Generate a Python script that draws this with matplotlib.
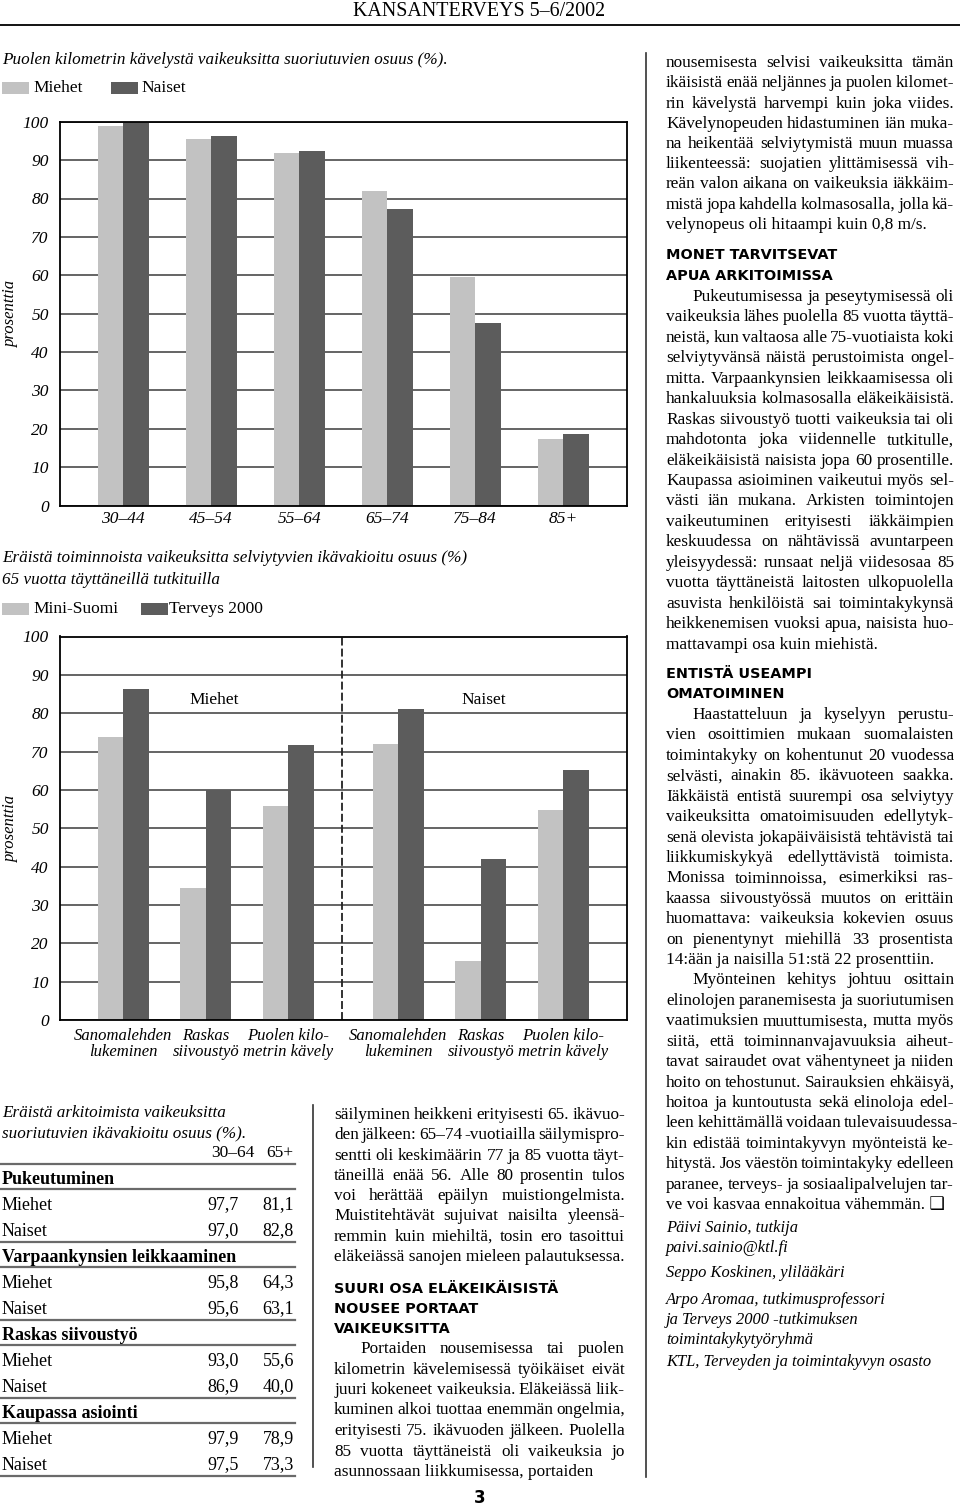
import matplotlib
matplotlib.use("Agg")
import matplotlib.pyplot as plt
import numpy as np
from matplotlib.patches import Rectangle
from matplotlib.lines import Line2D

# --- data -------------------------------------------------------------
age_groups = ["30–44", "45–54", "55–64", "65–74", "75–84", "85+"]
walk_men = [99.0, 95.4, 91.9, 82.0, 59.5, 17.4]
walk_women = [99.6, 96.2, 92.4, 77.3, 47.7, 18.6]

activities = ["Sanomalehden\nlukeminen", "Raskas\nsiivoustyö", "Puolen kilo-\nmetrin kävely",
              "Sanomalehden\nlukeminen", "Raskas\nsiivoustyö", "Puolen kilo-\nmetrin kävely"]
mini_suomi = [73.7, 34.3, 55.9, 72.0, 15.5, 54.8]
terveys_2000 = [86.4, 59.9, 71.8, 81.1, 42.1, 65.2]

table_sections = ["Pukeutuminen", "Varpaankynsien leikkaaminen", "Raskas siivoustyö", "Kaupassa asiointi"]
men_30_64 = [97.7, 95.8, 93.0, 97.9]
men_65 = [81.1, 64.3, 55.6, 78.9]
women_30_64 = [97.0, 95.6, 86.9, 97.5]
women_65 = [82.8, 63.1, 40.0, 73.3]

mid_para1 = [
    "säilyminen heikkeni erityisesti 65. ikävuo-",
    "den jälkeen: 65–74 -vuotiailla säilymispro-",
    "sentti oli keskimäärin 77 ja 85 vuotta täyt-",
    "täneillä enää 56. Alle 80 prosentin tulos",
    "voi herättää epäilyn muistiongelmista.",
    "Muistitehtävät sujuivat naisilta yleensä-",
    "remmin kuin miehiltä, tosin ero tasoittui",
    "eläkeiässä sanojen mieleen palautuksessa.",
]
mid_head = ["SUURI OSA ELÄKEIKÄISISTÄ", "NOUSEE PORTAAT", "VAIKEUKSITTA"]
mid_para2 = [
    "\tPortaiden nousemisessa tai puolen",
    "kilometrin kävelemisessä työikäiset eivät",
    "juuri kokeneet vaikeuksia. Eläkeiässä liik-",
    "kuminen alkoi tuottaa enemmän ongelmia,",
    "erityisesti 75. ikävuoden jälkeen. Puolella",
    "85 vuotta täyttäneistä oli vaikeuksia jo",
    "asunnossaan liikkumisessa, portaiden",
]

right_para1 = [
    "nousemisesta selvisi vaikeuksitta tämän",
    "ikäisistä enää neljännes ja puolen kilomet-",
    "rin kävelystä harvempi kuin joka viides.",
    "Kävelynopeuden hidastuminen iän muka-",
    "na heikentää selviytymistä muun muassa",
    "liikenteessä: suojatien ylittämisessä vih-",
    "reän valon aikana on vaikeuksia iäkkäim-",
    "mistä jopa kahdella kolmasosalla, jolla kä-",
    "velynopeus oli hitaampi kuin 0,8 m/s.",
]
right_head1 = ["MONET TARVITSEVAT", "APUA ARKITOIMISSA"]
right_para2 = [
    "\tPukeutumisessa ja peseytymisessä oli",
    "vaikeuksia lähes puolella 85 vuotta täyttä-",
    "neistä, kun valtaosa alle 75-vuotiaista koki",
    "selviytyvänsä näistä perustoimista ongel-",
    "mitta. Varpaankynsien leikkaamisessa oli",
    "hankaluuksia kolmasosalla eläkeikäisistä.",
    "Raskas siivoustyö tuotti vaikeuksia tai oli",
    "mahdotonta joka viidennelle tutkitulle,",
    "eläkeikäisistä naisista jopa 60 prosentille.",
    "Kaupassa asioiminen vaikeutui myös sel-",
    "västi iän mukana. Arkisten toimintojen",
    "vaikeutuminen erityisesti iäkkäimpien",
    "keskuudessa on nähtävissä avuntarpeen",
    "yleisyydessä: runsaat neljä viidesosaa 85",
    "vuotta täyttäneistä laitosten ulkopuolella",
    "asuvista henkilöistä sai toimintakykynsä",
    "heikkenemisen vuoksi apua, naisista huo-",
    "mattavampi osa kuin miehistä.",
]
right_head2 = ["ENTISTÄ USEAMPI", "OMATOIMINEN"]
right_para3 = [
    "\tHaastatteluun ja kyselyyn perustu-",
    "vien osoittimien mukaan suomalaisten",
    "toimintakyky on kohentunut 20 vuodessa",
    "selvästi, ainakin 85. ikävuoteen saakka.",
    "Iäkkäistä entistä suurempi osa selviytyy",
    "vaikeuksitta omatoimisuuden edellytyk-",
    "senä olevista jokapäiväisistä tehtävistä tai",
    "liikkumiskykyä edellyttävistä toimista.",
    "Monissa toiminnoissa, esimerkiksi ras-",
    "kaassa siivoustyössä muutos on erittäin",
    "huomattava: vaikeuksia kokevien osuus",
    "on pienentynyt miehillä 33 prosentista",
    "14:ään ja naisilla 51:stä 22 prosenttiin.",
    "\tMyönteinen kehitys johtuu osittain",
    "elinolojen paranemisesta ja suoriutumisen",
    "vaatimuksien muuttumisesta, mutta myös",
    "siitä, että toiminnanvajavuuksia aiheut-",
    "tavat sairaudet ovat vähentyneet ja niiden",
    "hoito on tehostunut. Sairauksien ehkäisyä,",
    "hoitoa ja kuntoutusta sekä elinoloja edel-",
    "leen kehittämällä voidaan tulevaisuudessa-",
    "kin edistää toimintakyvyn myönteistä ke-",
    "hitystä. Jos väestön toimintakyky edelleen",
    "paranee, terveys- ja sosiaalipalvelujen tar-",
    "ve voi kasvaa ennakoitua vähemmän. ❑",
]
signatures = [
    "Päivi Sainio, tutkija",
    "paivi.sainio@ktl.fi",
    "Seppo Koskinen, ylilääkäri",
    "Arpo Aromaa, tutkimusprofessori",
    "ja Terveys 2000 -tutkimuksen",
    "toimintakykytyöryhmä",
    "KTL, Terveyden ja toimintakyvyn osasto",
]

# --- page setup ---------------------------------------------------------
W, H = 960, 1507
LIGHT = "#c2c2c2"
DARK = "#5c5c5c"
SERIF = ["Liberation Serif", "DejaVu Sans"]

fig = plt.figure(figsize=(W / 100, H / 100), dpi=100)
renderer = fig.canvas.get_renderer()


def fx(x):
    return x / W


def fy(y):
    return 1 - y / H


def put(x, y, s, **kw):
    kw.setdefault("family", SERIF)
    kw.setdefault("va", "center")
    return fig.text(fx(x), fy(y), s, **kw)


def hline(x0, x1, y, **kw):
    fig.add_artist(Line2D([fx(x0), fx(x1)], [fy(y), fy(y)], transform=fig.transFigure, **kw))


def vline(x, y0, y1, **kw):
    fig.add_artist(Line2D([fx(x), fx(x)], [fy(y0), fy(y1)], transform=fig.transFigure, **kw))


def box(x, y, w, h, color):
    fig.add_artist(Rectangle((fx(x), fy(y + h)), w / W, h / H, transform=fig.transFigure,
                             color=color, lw=0))


def width_of(s, **kw):
    t = put(0, 0, s, **kw)
    w = t.get_window_extent(renderer).width
    t.remove()
    return w


def paragraph(x0, y0, pitch, lines, right, indent=26, **kw):
    # justified lines, last line of a paragraph left as is
    space = width_of("a a", **kw) - 2 * width_of("a", **kw)
    for i, line in enumerate(lines):
        y = y0 + i * pitch
        start = x0 + (indent if line.startswith("\t") else 0)
        s = line.lstrip("\t")
        last = i == len(lines) - 1 or lines[i + 1].startswith("\t")
        words = s.split(" ")
        if last or len(words) < 2:
            put(start, y, s, **kw)
            continue
        widths = [width_of(w, **kw) for w in words]
        gap = max(space * 0.6, (right - start - sum(widths)) / (len(words) - 1))
        cx = start
        for w, wd in zip(words, widths):
            put(cx, y, w, **kw)
            cx += wd + gap


def headings(x, y0, pitch, lines):
    for i, s in enumerate(lines):
        put(x, y0 + i * pitch, s, family="DejaVu Sans", fontweight="heavy", fontsize=10.4)


def style_axes(ax):
    ax.set_ylim(0, 100)
    ax.set_yticks(range(0, 101, 10))
    ax.yaxis.grid(True, color="#4a4a4a", lw=1.2)
    ax.set_axisbelow(True)
    for sp in ax.spines.values():
        sp.set_color("black")
        sp.set_linewidth(1.3)
    ax.tick_params(length=0)
    ax.tick_params(axis="y", pad=8)
    for lab in ax.get_yticklabels():
        lab.set_family(SERIF)
        lab.set_style("italic")
        lab.set_fontsize(12.5)
    ax.set_ylabel("prosenttia", family=SERIF, style="italic", fontsize=12)
    ax.yaxis.set_label_coords(-0.073, 0.5)


# --- header -------------------------------------------------------------
put(605, 12, "KANSANTERVEYS 5–6/2002", ha="right", fontsize=14.4)
hline(0, 960, 25, color="black", lw=1.3)

# --- chart 1 ------------------------------------------------------------
put(2, 60, "Puolen kilometrin kävelystä vaikeuksitta suoriutuvien osuus (%).",
    style="italic", fontsize=12.3)
box(2, 82, 27, 12, LIGHT)
put(33, 88, "Miehet", fontsize=12.5)
box(111, 82, 27, 12, DARK)
put(141, 88, "Naiset", fontsize=12.5)

ax1 = fig.add_axes([fx(60), fy(505.7), (626.5 - 60) / W, (505.7 - 121.7) / H])
x1 = np.arange(len(age_groups))
ax1.bar(x1 - 0.145, walk_men, 0.29, color=LIGHT, lw=0)
ax1.bar(x1 + 0.145, walk_women, 0.29, color=DARK, lw=0)
ax1.set_xlim(-0.72, 5.72)
ax1.set_xticks(x1)
ax1.set_xticklabels(age_groups, family=SERIF, style="italic", fontsize=12.5)
style_axes(ax1)
ax1.tick_params(axis="x", pad=4)

# --- chart 2 ------------------------------------------------------------
put(2, 558, "Eräistä toiminnoista vaikeuksitta selviytyvien ikävakioitu osuus (%)",
    style="italic", fontsize=12.3)
put(2, 580, "65 vuotta täyttäneillä tutkituilla", style="italic", fontsize=12.3)
box(2, 603, 27, 12, LIGHT)
put(33, 609, "Mini-Suomi", fontsize=12.5)
box(141, 603, 27, 12, DARK)
put(169, 609, "Terveys 2000", fontsize=12.5)

ax2 = fig.add_axes([fx(60), fy(1020), (626.5 - 60) / W, (1020 - 636.5) / H])
idx = np.arange(len(activities))
x2 = idx + 0.337 * (idx >= 3)
ax2.bar(x2 - 0.155, mini_suomi, 0.31, color=LIGHT, lw=0)
ax2.bar(x2 + 0.155, terveys_2000, 0.31, color=DARK, lw=0)
ax2.set_xlim(-0.768, 6.105)
ax2.axvline(2.649, color="#222222", lw=1.3, ls=(0, (4.4, 1.7)))
ax2.set_xticks(x2)
ax2.set_xticklabels(activities, family=SERIF, style="italic", fontsize=12, linespacing=0.95)
style_axes(ax2)
ax2.tick_params(axis="x", pad=6)
ax2.text(1.1, 83.4, "Miehet", family=SERIF, fontsize=12.5, ha="center", va="center")
ax2.text(4.37, 83.4, "Naiset", family=SERIF, fontsize=12.5, ha="center", va="center")

# --- table --------------------------------------------------------------
put(2, 1113, "Eräistä arkitoimista vaikeuksitta", style="italic", fontsize=12.3)
put(2, 1133, "suoriutuvien ikävakioitu osuus (%).", style="italic", fontsize=12.3)
put(211, 1153, "30–64", fontsize=12.5)
put(266, 1153, "65+", fontsize=12.5)
rule = dict(color="#6a6a6a", lw=1.6)
hline(0, 295, 1164, **rule)
fmt = lambda v: f"{v:.1f}".replace(".", ",")
for k, name in enumerate(table_sections):
    y = 1179 + k * 78
    put(2, y, name, fontsize=13, fontweight="bold")
    hline(0, 295, y + 10, **rule)
    for j, (lab, a, b) in enumerate([("Miehet", men_30_64[k], men_65[k]),
                                     ("Naiset", women_30_64[k], women_65[k])]):
        yy = y + 26 * (j + 1)
        put(2, yy, lab, fontsize=13)
        put(239, yy, fmt(a), fontsize=13, ha="right")
        put(294, yy, fmt(b), fontsize=13, ha="right")
    hline(0, 295, y + 63, **rule)

# column separators
vline(313, 1105, 1467, color="#333333", lw=1.2)
vline(646, 53, 1477, color="#333333", lw=1.2)

# --- body text ----------------------------------------------------------
body = dict(fontsize=12.4)
paragraph(334, 1115, 20.3, mid_para1, 625, **body)
headings(334, 1289, 20.2, mid_head)
paragraph(334, 1349, 20.5, mid_para2, 625, **body)

paragraph(666, 63, 20.25, right_para1, 954, **body)
headings(666, 255, 20.5, right_head1)
paragraph(666, 297, 20.45, right_para2, 954, **body)
headings(666, 674, 20.0, right_head2)
paragraph(666, 715, 20.42, right_para3, 954, **body)
for y, s in zip([1228, 1248, 1273, 1300, 1320, 1340, 1362], signatures):
    put(666, y, s, style="italic", fontsize=11.9)

put(480, 1498, "3", family="DejaVu Sans", fontweight="heavy", fontsize=12, ha="center")

fig.savefig("out.png", dpi=100)
